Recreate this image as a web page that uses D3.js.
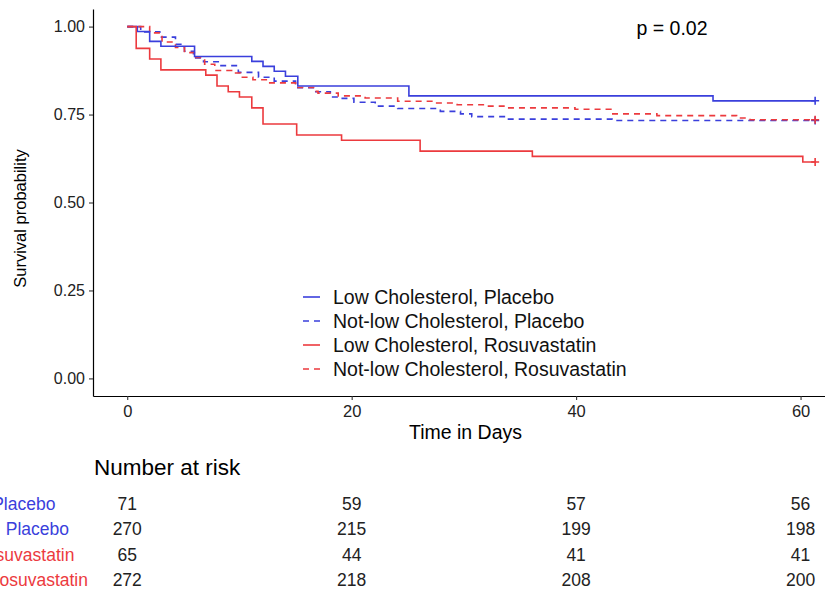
<!DOCTYPE html>
<html>
<head>
<meta charset="utf-8">
<script src="https://cdn.jsdelivr.net/npm/d3@7"></script>
<style>
  body { margin: 0; background: #fff; }
  svg { font-family: "Liberation Sans", Arial, sans-serif; }
</style>
</head>
<body>
<div id="chart"></div>
<script>
const FRAME_WIDTH = 825;
const FRAME_HEIGHT = 591;
// panel in pixels (the right side runs past the window, like the picture)
const PANEL = {left: 93, right: 846, top: 9, bottom: 396};

const BLUE = "#3a3fdc";
const RED = "#ec3a3e";

// strata
const STRATA = ["Low Cholesterol, Placebo", "Not-low Cholesterol, Placebo",
                "Low Cholesterol, Rosuvastatin", "Not-low Cholesterol, Rosuvastatin"];
const STRATA_COLORS = [BLUE, BLUE, RED, RED];
const STRATA_DASHED = [false, true, false, true];

// Kaplan-Meier steps (days, survival)
const LCP_TIMES = [0, 0.9, 2.0, 3.0, 6.0, 11.1, 12.1, 13.1, 14.1, 15.2, 25.1, 52.2];
const LCP_SURV  = [1, 0.986, 0.958, 0.944, 0.915, 0.901, 0.887, 0.873, 0.859, 0.831, 0.803, 0.789];

const NLP_TIMES = [0, 1.2, 2.9, 4.3, 5.1, 5.9, 6.8, 8.2, 9.9, 11.7, 13.1, 15.0, 16.8, 18.1, 19.0,
                   20.2, 22.1, 24.1, 27.9, 29.7, 30.7, 33.9, 43.2];
const NLP_SURV  = [1, 0.985, 0.970, 0.950, 0.930, 0.911, 0.900, 0.889, 0.870, 0.856, 0.845, 0.826,
                   0.815, 0.800, 0.796, 0.785, 0.774, 0.767, 0.759, 0.752, 0.744, 0.737, 0.733];

const LCR_TIMES = [0, 0.8, 2.0, 3.0, 7.0, 8.0, 9.0, 10.0, 11.1, 12.1, 15.1, 19.1, 26.1, 36.1, 60.2];
const LCR_SURV  = [1, 0.938, 0.908, 0.877, 0.862, 0.831, 0.815, 0.800, 0.769, 0.723, 0.692,
                   0.677, 0.646, 0.631, 0.615];

const NLR_TIMES = [0, 2.0, 3.1, 4.3, 5.1, 6.1, 6.9, 7.8, 9.3, 10.1, 11.2, 12.7, 15.0, 16.7, 17.0,
                   18.8, 21.2, 24.1, 27.4, 29.4, 31.9, 33.9, 39.9, 43.1, 47.2, 54.3, 55.5];
const NLR_SURV  = [1, 0.982, 0.956, 0.941, 0.926, 0.912, 0.893, 0.875, 0.868, 0.856, 0.849, 0.840,
                   0.827, 0.816, 0.811, 0.803, 0.797, 0.788, 0.783, 0.778, 0.774, 0.769, 0.765,
                   0.752, 0.747, 0.740, 0.735];

const END_TIME = 61.3;

// number at risk
const RISK_TIMES = [0, 20, 40, 60];
const RISK_LCP = [71, 59, 57, 56];
const RISK_NLP = [270, 215, 199, 198];
const RISK_LCR = [65, 44, 41, 41];
const RISK_NLR = [272, 218, 208, 200];

const X_TICKS = [0, 20, 40, 60];
const Y_TICKS = [0, 0.25, 0.5, 0.75, 1];
const P_LABEL = "p = 0.02";

const SVG = d3.select("#chart")
              .append("svg")
                .attr("width", FRAME_WIDTH)
                .attr("height", FRAME_HEIGHT);

// ggplot style 5% expansion
const X_SCALE = d3.scaleLinear()
                  .domain([-3.05, 64.05])
                  .range([PANEL.left, PANEL.right]);

const Y_SCALE = d3.scaleLinear()
                  .domain([-0.05, 1.05])
                  .range([PANEL.bottom, PANEL.top]);

const curves = [
  {times: LCP_TIMES, surv: LCP_SURV},
  {times: NLP_TIMES, surv: NLP_SURV},
  {times: LCR_TIMES, surv: LCR_SURV},
  {times: NLR_TIMES, surv: NLR_SURV}
];

const stepLine = d3.line()
                   .x((d) => X_SCALE(d[0]))
                   .y((d) => Y_SCALE(d[1]))
                   .curve(d3.curveStepAfter);

// draw dashed ones first so the solid lines sit on top
[1, 3, 0, 2].forEach((i) => {
  let c = curves[i];
  let pts = c.times.map((t, j) => [t, c.surv[j]]);
  pts.push([END_TIME, c.surv[c.surv.length - 1]]);
  SVG.append("path")
      .attr("d", stepLine(pts))
      .attr("fill", "none")
      .attr("stroke", STRATA_COLORS[i])
      .attr("stroke-width", 1.6)
      .attr("stroke-dasharray", STRATA_DASHED[i] ? "6,5" : null);

  // censor mark at the end
  let cx = X_SCALE(END_TIME), cy = Y_SCALE(c.surv[c.surv.length - 1]);
  SVG.append("path")
      .attr("d", "M" + (cx - 4) + "," + cy + "H" + (cx + 4) + "M" + cx + "," + (cy - 4) + "V" + (cy + 4))
      .attr("stroke", STRATA_COLORS[i])
      .attr("stroke-width", 1.6);
});

// y axis
let yAxis = SVG.append("g")
    .attr("transform", "translate(" + PANEL.left + ",0)")
    .call(d3.axisLeft(Y_SCALE).tickValues(Y_TICKS).tickFormat(d3.format(".2f")).tickSize(4).tickPadding(4).tickSizeOuter(0));
yAxis.select(".domain").attr("stroke", "#000").attr("stroke-width", 1.2);
yAxis.selectAll(".tick line").attr("stroke", "#333").attr("stroke-width", 1.1);
yAxis.selectAll("text").attr("font-size", "16px").attr("fill", "#222")
     .attr("font-family", "Liberation Sans, Arial, sans-serif");

// x axis
let xAxis = SVG.append("g")
    .attr("transform", "translate(0," + PANEL.bottom + ")")
    .call(d3.axisBottom(X_SCALE).tickValues(X_TICKS).tickSize(4).tickPadding(5).tickSizeOuter(0));
xAxis.select(".domain").attr("stroke", "#000").attr("stroke-width", 1.2);
xAxis.selectAll(".tick line").attr("stroke", "#333").attr("stroke-width", 1.1);
xAxis.selectAll("text").attr("font-size", "16.5px").attr("fill", "#222")
     .attr("font-family", "Liberation Sans, Arial, sans-serif");

// axis titles
SVG.append("text")
    .attr("x", (PANEL.left + PANEL.right) / 2 - 4)
    .attr("y", 439)
    .attr("text-anchor", "middle")
    .attr("font-size", "19.5px")
    .text("Time in Days");

SVG.append("text")
    .attr("transform", "translate(26," + ((PANEL.top + PANEL.bottom) / 2 + 16) + ") rotate(-90)")
    .attr("text-anchor", "middle")
    .attr("font-size", "16.5px")
    .text("Survival probability");

// p value
SVG.append("text")
    .attr("x", 672)
    .attr("y", 35)
    .attr("text-anchor", "middle")
    .attr("font-size", "19.5px")
    .text(P_LABEL);

// legend
const LEGEND_X = 303, LEGEND_Y = 297, LEGEND_STEP = 24;
STRATA.forEach((name, i) => {
  let y = LEGEND_Y + i * LEGEND_STEP;
  SVG.append("line")
      .attr("x1", LEGEND_X).attr("x2", LEGEND_X + 17)
      .attr("y1", y).attr("y2", y)
      .attr("stroke", STRATA_COLORS[i])
      .attr("stroke-width", 1.6)
      .attr("stroke-dasharray", STRATA_DASHED[i] ? "6,5" : null);
  SVG.append("text")
      .attr("x", LEGEND_X + 30)
      .attr("y", y + 7)
      .attr("font-size", "19.5px")
      .attr("fill", "#111")
      .text(name);
});

// risk table
SVG.append("text")
    .attr("x", 94)
    .attr("y", 475)
    .attr("font-size", "22.5px")
    .text("Number at risk");

const RISK_ROWS = [RISK_LCP, RISK_NLP, RISK_LCR, RISK_NLR];
const RISK_Y = d3.scalePoint().domain(d3.range(4)).range([504, 580]);
const RISK_FONT = 17.5;

// labels are centred on one x; the longest one ends at x = 88
let labels = RISK_ROWS.map((row, i) => SVG.append("text")
      .attr("y", RISK_Y(i) + 6)
      .attr("text-anchor", "middle")
      .attr("font-size", RISK_FONT + "px")
      .attr("fill", STRATA_COLORS[i])
      .text(STRATA[i]));
let longest = labels[3].node().getComputedTextLength();
labels.forEach((t) => t.attr("x", 88 - longest / 2));

RISK_ROWS.forEach((row, i) => {
  SVG.selectAll(".risk" + i)
      .data(row)
      .enter()
      .append("text")
        .attr("x", (d, j) => X_SCALE(RISK_TIMES[j]))
        .attr("y", RISK_Y(i) + 6)
        .attr("text-anchor", "middle")
        .attr("font-size", RISK_FONT + "px")
        .attr("fill", "#222")
        .text((d) => d);
});
</script>
</body>
</html>
